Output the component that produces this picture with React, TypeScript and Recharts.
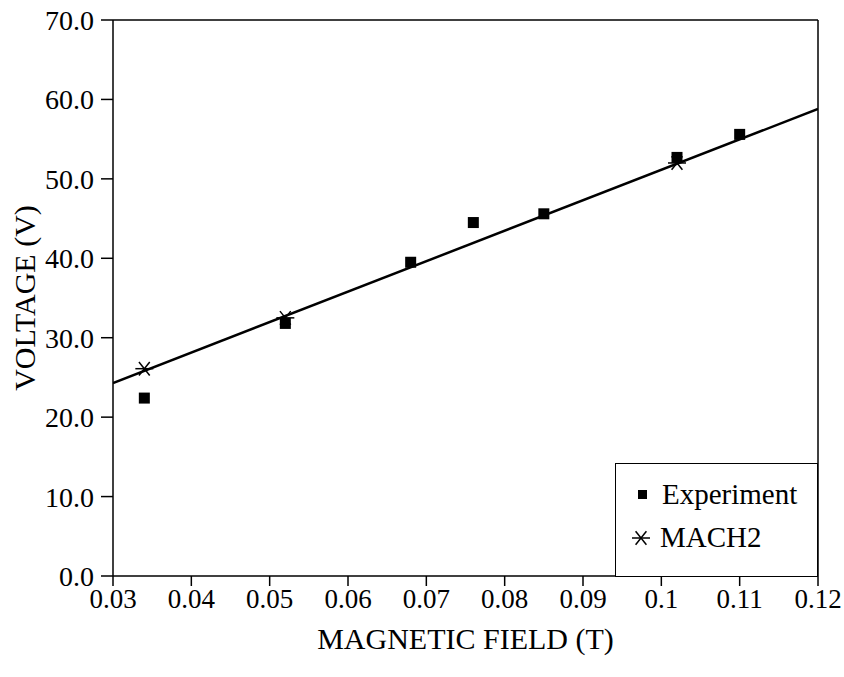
import React from 'react';
import { ComposedChart, Scatter, Line, XAxis, YAxis, ReferenceLine } from 'recharts';

// magnetic field (T) and measured voltage (V)
const expField = [0.034, 0.052, 0.068, 0.076, 0.085, 0.102, 0.110];
const expVoltage = [22.4, 31.8, 39.5, 44.5, 45.6, 52.7, 55.6];

// MACH2 simulation points
const machField = [0.034, 0.052, 0.102];
const machVoltage = [26.1, 32.5, 52.0];

// fitted line end points
const fitField = [0.03, 0.12];
const fitVoltage = [24.3, 58.8];

const xTicks = [0.03, 0.04, 0.05, 0.06, 0.07, 0.08, 0.09, 0.1, 0.11, 0.12];
const yTicks = [0, 10, 20, 30, 40, 50, 60, 70];

const experimentData = expField.map((x, i) => ({ x, y: expVoltage[i] }));
const machData = machField.map((x, i) => ({ x, y: machVoltage[i] }));
const fitData = fitField.map((x, i) => ({ x, y: fitVoltage[i] }));

const FONT = '"Liberation Serif", "Times New Roman", serif';

const Square = (props: any) => {
  const { cx, cy } = props;
  return <rect x={cx - 5.5} y={cy - 5.5} width={11} height={11} fill="#000" />;
};

const Asterisk = (props: any) => {
  const { cx, cy } = props;
  const r = 9;
  return (
    <g stroke="#000" strokeWidth={1.5}>
      <line x1={cx - r} y1={cy} x2={cx + r} y2={cy} />
      <line x1={cx - r * 0.6} y1={cy - r * 0.75} x2={cx + r * 0.6} y2={cy + r * 0.75} />
      <line x1={cx - r * 0.6} y1={cy + r * 0.75} x2={cx + r * 0.6} y2={cy - r * 0.75} />
    </g>
  );
};

const fmtX = (v: number) => String(Number(v.toFixed(2)));
const fmtY = (v: number) => v.toFixed(1);

export default function App() {
  return (
    <div style={{ position: 'absolute', left: 0, top: 0, width: 844, height: 677, background: '#fff', fontFamily: FONT }}>
      <ComposedChart width={844} height={677} margin={{ top: 20, right: 26, left: 0, bottom: 0 }}>
        <XAxis
          type="number"
          dataKey="x"
          domain={[0.03, 0.12]}
          ticks={xTicks}
          tickFormatter={fmtX}
          allowDataOverflow
          interval={0}
          height={101}
          stroke="#000"
          strokeWidth={1.5}
          tickSize={10}
          tickMargin={3}
          tick={{ fill: '#000', fontSize: 27, fontFamily: FONT }}
          label={{ value: 'MAGNETIC FIELD (T)', position: 'insideBottom', offset: 28, fill: '#000', fontSize: 30, fontFamily: FONT }}
        />
        <YAxis
          type="number"
          dataKey="y"
          domain={[0, 70]}
          ticks={yTicks}
          tickFormatter={fmtY}
          width={113}
          stroke="#000"
          strokeWidth={1.5}
          tickSize={12}
          tickMargin={7}
          tick={{ fill: '#000', fontSize: 28, fontFamily: FONT }}
          label={{ value: 'VOLTAGE (V)', angle: -90, position: 'insideLeft', offset: 24, fill: '#000', fontSize: 30, fontFamily: FONT, style: { textAnchor: 'middle' } }}
        />
        <ReferenceLine y={70} stroke="#000" strokeWidth={1.5} />
        <ReferenceLine x={0.12} stroke="#000" strokeWidth={1.5} />
        <Line data={fitData} dataKey="y" type="linear" stroke="#000" strokeWidth={2.5} dot={false} activeDot={false} isAnimationActive={false} />
        <Scatter data={experimentData} dataKey="y" shape={Square} isAnimationActive={false} />
        <Scatter data={machData} dataKey="y" shape={Asterisk} isAnimationActive={false} />
      </ComposedChart>
      <div
        style={{
          position: 'absolute',
          left: 615,
          top: 463,
          width: 203,
          height: 114,
          boxSizing: 'border-box',
          border: '1.5px solid #000',
          background: '#fff',
          fontSize: 29,
          color: '#000',
        }}
      >
        <div style={{ position: 'absolute', left: 20, top: 14, display: 'flex', alignItems: 'center' }}>
          <svg width={26} height={20}><rect x={2} y={5} width={9} height={9} fill="#000" /></svg>
          <span>Experiment</span>
        </div>
        <div style={{ position: 'absolute', left: 12, top: 57, display: 'flex', alignItems: 'center' }}>
          <svg width={32} height={22}>
            <Asterisk cx={13} cy={11} />
          </svg>
          <span>MACH2</span>
        </div>
      </div>
    </div>
  );
}
